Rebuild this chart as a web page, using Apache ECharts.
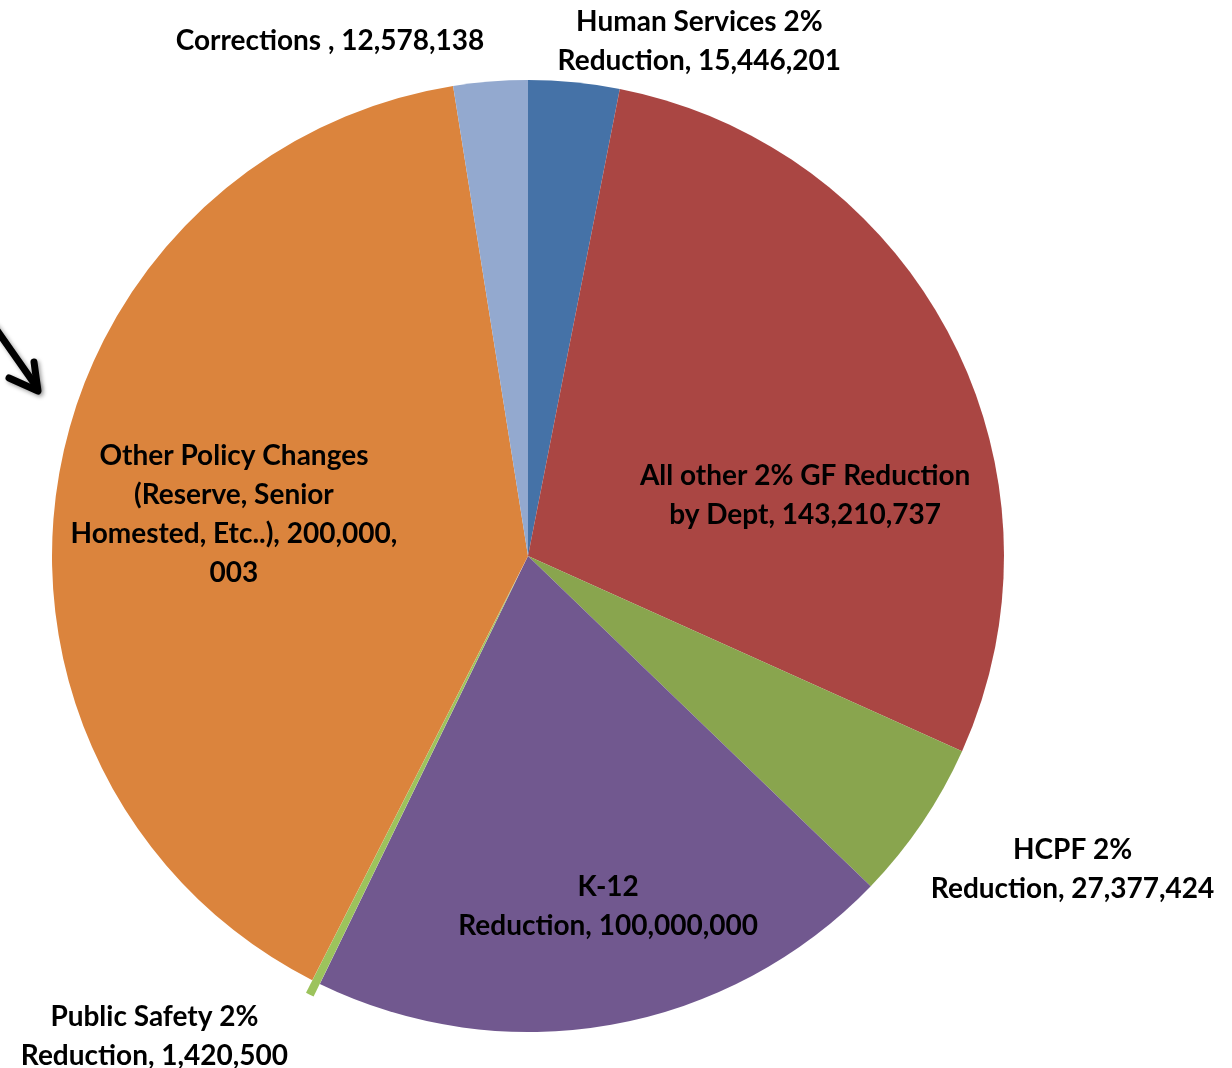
<!DOCTYPE html>
<html>
<head>
    <meta charset="UTF-8">
    <title>Budget reductions</title>
    <script src="https://cdn.jsdelivr.net/npm/echarts@6/dist/echarts.min.js"></script>
    <style>
        html, body { margin: 0; padding: 0; background: #fff; }
        #main { width: 1232px; height: 1068px; }
    </style>
</head>
<body>
    <div id="main"></div>
    <script type="text/javascript">
        // slice data, clockwise from 12 o'clock
        let names = [
            'Human Services 2% Reduction',
            'All other 2% GF Reduction by Dept',
            'HCPF 2% Reduction',
            'K-12 Reduction',
            'Public Safety 2% Reduction',
            'Other Policy Changes (Reserve, Senior Homested, Etc..)',
            'Corrections '
        ];
        let values = [15446201, 143210737, 27377424, 100000000, 1420500, 200000003, 12578138];
        let labelTexts = [
            'Human Services 2%\nReduction, 15,446,201',
            'All other 2% GF Reduction\nby Dept, 143,210,737',
            'HCPF 2%\nReduction, 27,377,424',
            'K-12\nReduction, 100,000,000',
            'Public Safety 2%\nReduction, 1,420,500',
            'Other Policy Changes\n(Reserve, Senior\nHomested, Etc..), 200,000,\n003',
            'Corrections , 12,578,138'
        ];
        let colors = ['#4572A7', '#AA4643', '#89A54E', '#71588F', '#9CC35C', '#DB843D', '#93A9CF'];
        // label nudges from the default inside position
        let labelOffsets = [[148, -275], [63, 50], [345, 178], [38, 113], [-260, 252], [-56, -4], [-179, -275]];

        let myChart = echarts.init(document.getElementById('main'));
        let mydata = [];
        for (let i = 0; i < names.length; i++) {
            mydata.push({
                name: names[i],
                value: values[i],
                selected: i === 4,
                itemStyle: { color: colors[i] },
                label: { offset: labelOffsets[i] },
                select: { label: { offset: labelOffsets[i] } }
            });
        }

        myChart.setOption({
            animation: false,
            series: [{
                type: 'pie',
                center: [528, 556],
                radius: 476,
                startAngle: 90,
                clockwise: true,
                selectedMode: 'single',
                selectedOffset: 14,
                avoidLabelOverlap: false,
                data: mydata,
                itemStyle: { borderWidth: 0 },
                emphasis: { disabled: true },
                label: {
                    show: true,
                    position: 'inside',
                    color: '#000',
                    fontFamily: 'Lato',
                    fontWeight: 'bold',
                    fontSize: 28,
                    lineHeight: 39,
                    align: 'center',
                    formatter: function (p) { return labelTexts[p.dataIndex]; }
                },
                labelLine: { show: false }
            }],
            graphic: [{
                type: 'group',
                children: [{
                    type: 'polyline',
                    shape: { points: [[-6, 326], [36, 386]] },
                    style: { stroke: '#000', lineWidth: 7, lineCap: 'round', shadowBlur: 4, shadowColor: 'rgba(0,0,0,0.4)', shadowOffsetX: 2, shadowOffsetY: 2 }
                }, {
                    type: 'polyline',
                    shape: { points: [[9, 378], [38, 391], [34, 362]] },
                    style: { stroke: '#000', lineWidth: 7, lineCap: 'round', lineJoin: 'round', fill: null, shadowBlur: 4, shadowColor: 'rgba(0,0,0,0.4)', shadowOffsetX: 2, shadowOffsetY: 2 }
                }]
            }]
        });
    </script>
</body>
</html>
